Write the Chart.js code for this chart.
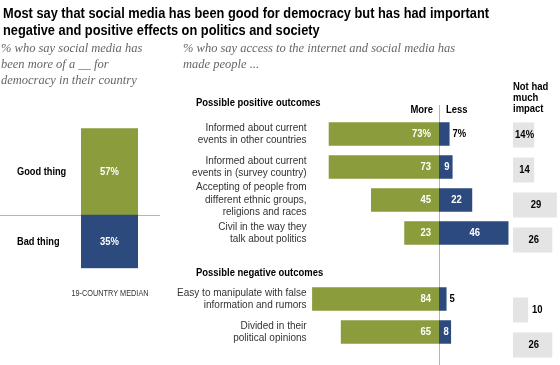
<!DOCTYPE html>
<html>
<head>
<meta charset="utf-8">
<script src="https://cdn.jsdelivr.net/npm/chart.js@4.4.1/dist/chart.umd.min.js"></script>
<style>
  body { margin: 0; width: 560px; height: 365px; position: relative; overflow: hidden; background: #fff;
         font-family: 'Liberation Sans', Arial, sans-serif; }
  canvas { position: absolute; top: 0; }
  #title { position: absolute; left: 3px; top: 4px; font-weight: bold; font-size: 15.5px; line-height: 17px; color: #000;
           white-space: nowrap; transform-origin: 0 0; }
  .sub { position: absolute; top: 40px; font-family: 'Liberation Serif', serif; font-style: italic;
         font-size: 12.5px; line-height: 16px; color: #666; white-space: nowrap; }
</style>
</head>
<body>
<canvas id="medianChart" width="170" height="365" style="left:0"></canvas>
<canvas id="effectsChart" width="360" height="365" style="left:160px"></canvas>
<canvas id="noImpactChart" width="47" height="365" style="left:513px"></canvas>
<div id="title"><span id="titleLine1">Most say that social media has been good for democracy but has had important</span><br>negative and positive effects on politics and society</div>
<div class="sub" style="left:1px">% who say social media has<br>been more of a __ for<br>democracy in their country</div>
<div class="sub" style="left:183px">% who say access to the internet and social media has<br>made people ...</div>
<script>
var medianLabels = ['Good thing', 'Bad thing'];
var medianValues = [57, 35];

var rowLabels = [
    ['Informed about current', 'events in other countries'],
    ['Informed about current', 'events in (survey country)'],
    ['Accepting of people from', 'different ethnic groups,', 'religions and races'],
    ['Civil in the way they', 'talk about politics'],
    '',
    ['Easy to manipulate with false', 'information and rumors'],
    ['Divided in their', 'political opinions']
];
var moreValues = [73, 73, 45, 23, null, 84, 65];
var lessValues = [7, 9, 22, 46, null, 5, 8];
var noImpactValues = [14, 14, 29, 26, null, 10, 26];

var GREEN = '#8a9c3b';
var BLUE = '#2d4a7f';
var GREY = '#e4e4e4';
var FONT = "'Liberation Sans', Arial, sans-serif";
var SQUEEZE = 0.86; // the original uses a condensed gothic face

// title: squeeze horizontally to the original's width
var line1 = document.getElementById('titleLine1');
document.getElementById('title').style.transform = 'scaleX(' + (486 / line1.getBoundingClientRect().width) + ')';

Chart.defaults.font.family = FONT;
Chart.defaults.animation = false;
Chart.defaults.plugins.legend.display = false;
Chart.defaults.plugins.tooltip.enabled = false;

function pct(v, i) { return i === 0 ? v + '%' : String(v); }

function text(ctx, s, x, y, align, sx) {
    ctx.save();
    ctx.translate(x, y);
    ctx.scale(sx || SQUEEZE, 1);
    ctx.textAlign = align;
    ctx.fillText(s, 0, 0);
    ctx.restore();
}

// left: 19-country median
new Chart(document.getElementById('medianChart'), {
    type: 'bar',
    data: {
        labels: [''],
        datasets: [
            { label: medianLabels[1], data: [medianValues[1]], backgroundColor: BLUE },
            { label: medianLabels[0], data: [medianValues[0]], backgroundColor: GREEN }
        ]
    },
    options: {
        responsive: false,
        layout: { padding: { left: 81, right: 32, top: 128.3, bottom: 96.7 } },
        datasets: { bar: { barPercentage: 1, categoryPercentage: 1 } },
        scales: {
            x: { stacked: true, display: false },
            y: { stacked: true, display: false, min: 0, max: 92 }
        }
    },
    plugins: [{
        id: 'medianText',
        beforeDatasetsDraw: function(chart) {
            var ctx = chart.ctx, y = chart.scales.y.getPixelForValue(medianValues[1]);
            ctx.save();
            ctx.strokeStyle = '#b5b5b5';
            ctx.lineWidth = 1;
            ctx.beginPath(); ctx.moveTo(0, Math.round(y) + 0.5); ctx.lineTo(160, Math.round(y) + 0.5); ctx.stroke();
            ctx.restore();
        },
        afterDatasetsDraw: function(chart) {
            var ctx = chart.ctx;
            ctx.save();
            ctx.textBaseline = 'middle';
            ctx.font = 'bold 11px ' + FONT;
            chart.data.datasets.forEach(function(ds, d) {
                var bar = chart.getDatasetMeta(d).data[0];
                var cy = (bar.y + bar.base) / 2;
                ctx.fillStyle = '#fff';
                text(ctx, ds.data[0] + '%', bar.x, cy, 'center');
                ctx.fillStyle = '#000';
                text(ctx, ds.label, 17, cy, 'left', 0.84);
            });
            ctx.font = '9.5px ' + FONT;
            ctx.fillStyle = '#333';
            text(ctx, '19-COUNTRY MEDIAN', 110, 293, 'center', 0.77);
            ctx.restore();
        }
    }]
});

// middle: more / less diverging bars
new Chart(document.getElementById('effectsChart'), {
    type: 'bar',
    data: {
        labels: rowLabels,
        datasets: [
            { label: 'More', data: moreValues.map(function(v) { return v == null ? null : -v; }), backgroundColor: GREEN },
            { label: 'Less', data: lessValues, backgroundColor: BLUE }
        ]
    },
    options: {
        responsive: false,
        indexAxis: 'y',
        layout: { padding: { left: 0, right: 8.5, top: 117.5, bottom: 2.5 } },
        datasets: { bar: { barPercentage: 0.714, categoryPercentage: 1 } },
        scales: {
            x: { stacked: true, display: false, min: -85, max: 48 },
            y: {
                stacked: true,
                grid: { display: false, drawTicks: false },
                border: { display: false },
                ticks: { color: '#333', padding: 4, autoSkip: false, font: { size: 10, lineHeight: 1.25 } },
                afterFit: function(s) { s.width = 150.6; }
            }
        }
    },
    plugins: [{
        id: 'effectsText',
        beforeDatasetsDraw: function(chart) {
            var ctx = chart.ctx, x0 = Math.round(chart.scales.x.getPixelForValue(0)) + 0.5;
            ctx.save();
            ctx.strokeStyle = '#b5b5b5';
            ctx.lineWidth = 1;
            ctx.beginPath(); ctx.moveTo(x0, 105); ctx.lineTo(x0, 365); ctx.stroke();
            ctx.restore();
        },
        afterDatasetsDraw: function(chart) {
            var ctx = chart.ctx, xs = chart.scales.x, ys = chart.scales.y;
            var x0 = xs.getPixelForValue(0);
            ctx.save();
            ctx.textBaseline = 'middle';
            ctx.font = 'bold 11px ' + FONT;
            ctx.fillStyle = '#000';
            text(ctx, 'Possible positive outcomes', 36, ys.getPixelForValue(0) - 31, 'left');
            text(ctx, 'Possible negative outcomes', 36, ys.getPixelForValue(4) + 7, 'left');
            text(ctx, 'More', x0 - 6, 110, 'right');
            text(ctx, 'Less', x0 + 7, 110, 'left');

            chart.getDatasetMeta(0).data.forEach(function(bar, i) {
                if (moreValues[i] == null) return;
                ctx.fillStyle = '#fff';
                text(ctx, pct(moreValues[i], i), bar.base - 8, bar.y, 'right');
            });
            chart.getDatasetMeta(1).data.forEach(function(bar, i) {
                if (lessValues[i] == null) return;
                if (lessValues[i] >= 8) {
                    ctx.fillStyle = '#fff';
                    text(ctx, pct(lessValues[i], i), (bar.x + bar.base) / 2 + 1, bar.y, 'center');
                } else {
                    ctx.fillStyle = '#000';
                    text(ctx, pct(lessValues[i], i), bar.x + 3, bar.y, 'left');
                }
            });
            ctx.restore();
        }
    }]
});

// right: not had much impact
new Chart(document.getElementById('noImpactChart'), {
    type: 'bar',
    data: {
        labels: rowLabels,
        datasets: [{ label: 'Not had much impact', data: noImpactValues, backgroundColor: GREY }]
    },
    options: {
        responsive: false,
        indexAxis: 'y',
        layout: { padding: { left: 0, right: 0, top: 117.5, bottom: 2.5 } },
        datasets: { bar: { barPercentage: 0.714, categoryPercentage: 1 } },
        scales: {
            x: { display: false, min: 0, max: 31.1 },
            y: { display: false }
        }
    },
    plugins: [{
        id: 'noImpactText',
        afterDatasetsDraw: function(chart) {
            var ctx = chart.ctx;
            ctx.save();
            ctx.textBaseline = 'middle';
            ctx.font = 'bold 11px ' + FONT;
            ctx.fillStyle = '#000';
            ['Not had', 'much', 'impact'].forEach(function(t, k) { text(ctx, t, 0, 87 + k * 11, 'left'); });
            chart.getDatasetMeta(0).data.forEach(function(bar, i) {
                var v = noImpactValues[i];
                if (v == null) return;
                if (v >= 12) {
                    text(ctx, pct(v, i), (bar.x + bar.base) / 2 + 1, bar.y, 'center');
                } else {
                    text(ctx, pct(v, i), bar.x + 4, bar.y, 'left');
                }
            });
            ctx.restore();
        }
    }]
});
</script>
</body>
</html>
